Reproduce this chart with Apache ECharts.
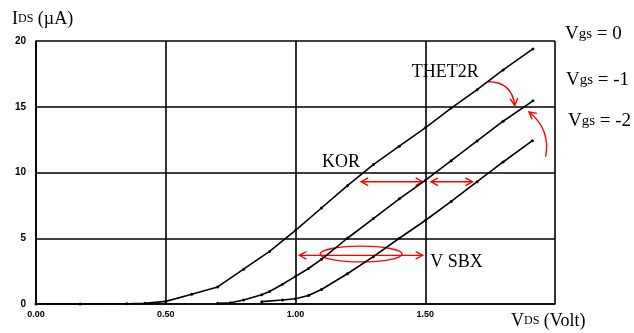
<!DOCTYPE html>
<html>
<head>
<meta charset="utf-8">
<script src="https://cdn.jsdelivr.net/npm/echarts@6/dist/echarts.min.js"></script>
<style>
html, body { margin: 0; padding: 0; background: #fff; }
#chart { width: 634px; height: 333px; }
</style>
</head>
<body>
<div id="chart"></div>
<script>
// Vgs = 0
var vds0 = [0, 0.17, 0.35, 0.42, 0.5, 0.6, 0.7, 0.8, 0.9, 1.0, 1.1, 1.2, 1.3, 1.4, 1.5, 1.6, 1.7, 1.8, 1.915];
var ids0 = [0, 0, 0.02, 0.05, 0.2, 0.74, 1.3, 2.65, 4.0, 5.6, 7.3, 9.0, 10.6, 12.0, 13.4, 14.9, 16.3, 17.8, 19.4];
// Vgs = -1
var vds1 = [0.7, 0.75, 0.8, 0.87, 0.9, 0.95, 1.0, 1.05, 1.1, 1.2, 1.3, 1.4, 1.5, 1.6, 1.7, 1.8, 1.915];
var ids1 = [0.05, 0.1, 0.3, 0.7, 0.95, 1.5, 2.1, 2.7, 3.4, 5.0, 6.5, 8.0, 9.4, 10.9, 12.4, 13.9, 15.45];
// Vgs = -2
var vds2 = [0.87, 0.95, 1.0, 1.05, 1.1, 1.2, 1.3, 1.4, 1.5, 1.6, 1.7, 1.8, 1.913];
var ids2 = [0.18, 0.3, 0.4, 0.65, 1.1, 2.3, 3.6, 5.0, 6.35, 7.8, 9.3, 10.8, 12.42];

var curveNames = ['Vgs = 0', 'Vgs = -1', 'Vgs = -2'];

// red annotations (data coords)
var straightArrows = [
    [[1.253, 9.3], [1.49, 9.3]],
    [[1.522, 9.3], [1.682, 9.3]],
    [[1.015, 3.7], [1.49, 3.7]]
];
// [from, to, bend]; bend = sideways offset of the control point, relative to length
var curvedArrows = [
    [[1.74, 16.9], [1.845, 15.1], 0.45],
    [[1.964, 11.2], [1.9, 14.6], -0.3]
];
var ellipse = [1.253, 3.8, 0.158, 0.6];

var notes = [
    {text: 'KOR', x: 1.175, y: 10.8},
    {text: 'THET2R', x: 1.577, y: 17.6},
    {text: 'V SBX', x: 1.62, y: 3.2}
];

function zip(a, b) {
    return a.map(function (v, i) { return [v, b[i]]; });
}

var chart = echarts.init(document.getElementById('chart'));

var serif = '"Liberation Serif", "DejaVu Serif", serif';
var red = '#ff0000';
var redStroke = {fill: 'none', stroke: red, lineWidth: 1.4};

function curve(name, xs, ys) {
    return {
        name: name,
        type: 'line',
        data: zip(xs, ys),
        symbol: 'circle',
        symbolSize: 3,
        itemStyle: {color: '#000'},
        lineStyle: {color: '#000', width: 1.6},
        silent: true
    };
}

// open "V" arrow head at tip, coming from direction of 'from'
function arrowHead(tip, from) {
    var ang = Math.atan2(tip[1] - from[1], tip[0] - from[0]);
    var len = 8, spread = 0.5;
    var a = [tip[0] - len * Math.cos(ang - spread), tip[1] - len * Math.sin(ang - spread)];
    var b = [tip[0] - len * Math.cos(ang + spread), tip[1] - len * Math.sin(ang + spread)];
    return {type: 'polyline', shape: {points: [a, tip, b]}, style: redStroke};
}

var option = {
    animation: false,
    grid: {left: 36, right: 79, top: 41, bottom: 29},
    xAxis: {
        type: 'value',
        min: 0, max: 2, interval: 0.5,
        axisLine: {lineStyle: {color: '#000', width: 1.6}},
        axisTick: {show: false},
        splitLine: {lineStyle: {color: '#000', width: 1.6}},
        axisLabel: {
            color: '#000', fontSize: 9, fontWeight: 'bold', margin: 6,
            fontFamily: '"Liberation Sans", sans-serif',
            formatter: function (v) { return v === 2 ? '' : v.toFixed(2); }
        }
    },
    yAxis: {
        type: 'value',
        min: 0, max: 20, interval: 5,
        axisLine: {show: true, lineStyle: {color: '#000', width: 1.6}},
        axisTick: {show: false},
        splitLine: {lineStyle: {color: '#000', width: 1.6}},
        axisLabel: {
            color: '#000', fontSize: 10, fontWeight: 'bold', margin: 10,
            fontFamily: '"Liberation Sans", sans-serif'
        }
    },
    graphic: [
        {type: 'text', left: 12, top: 10, style: {
            text: 'I{s|DS} (µA)', rich: {s: {fontSize: 12, fontFamily: serif}},
            font: '18px ' + serif, fill: '#000'}},
        {type: 'text', left: 511, top: 312, style: {
            text: 'V{s|DS} (Volt)', rich: {s: {fontSize: 12, fontFamily: serif}},
            font: '18px ' + serif, fill: '#000'}},
        {type: 'text', left: 565, top: 25, style: {
            text: 'V{s|gs} = 0', rich: {s: {fontSize: 15, fontFamily: serif}},
            font: '19px ' + serif, fill: '#000'}},
        {type: 'text', left: 566, top: 71, style: {
            text: 'V{s|gs} = -1', rich: {s: {fontSize: 15, fontFamily: serif}},
            font: '19px ' + serif, fill: '#000'}},
        {type: 'text', left: 568, top: 112, style: {
            text: 'V{s|gs} = -2', rich: {s: {fontSize: 15, fontFamily: serif}},
            font: '19px ' + serif, fill: '#000'}}
    ],
    series: [
        curve(curveNames[0], vds0, ids0),
        curve(curveNames[1], vds1, ids1),
        curve(curveNames[2], vds2, ids2),
        {
            name: 'annotations',
            type: 'custom',
            silent: true,
            clip: false,
            data: [ellipse],
            renderItem: function (params, api) {
                var c = api.coord([api.value(0), api.value(1)]);
                var s = api.size([api.value(2), api.value(3)]);
                var children = [{
                    type: 'ellipse',
                    shape: {cx: c[0], cy: c[1], rx: s[0], ry: s[1]},
                    style: redStroke
                }];
                straightArrows.forEach(function (a) {
                    var p1 = api.coord(a[0]), p2 = api.coord(a[1]);
                    children.push({
                        type: 'line',
                        shape: {x1: p1[0], y1: p1[1], x2: p2[0], y2: p2[1]},
                        style: redStroke
                    });
                    children.push(arrowHead(p1, p2));
                    children.push(arrowHead(p2, p1));
                });
                curvedArrows.forEach(function (a) {
                    var p1 = api.coord(a[0]), p2 = api.coord(a[1]);
                    var cpx = (p1[0] + p2[0]) / 2 - (p1[1] - p2[1]) * a[2];
                    var cpy = (p1[1] + p2[1]) / 2 - (p2[0] - p1[0]) * a[2];
                    children.push({
                        type: 'bezierCurve',
                        shape: {x1: p1[0], y1: p1[1], x2: p2[0], y2: p2[1], cpx1: cpx, cpy1: cpy},
                        style: redStroke
                    });
                    children.push(arrowHead(p2, [cpx, cpy]));
                });
                notes.forEach(function (n) {
                    var p = api.coord([n.x, n.y]);
                    children.push({
                        type: 'text',
                        x: p[0], y: p[1],
                        style: {
                            text: n.text, fill: '#000',
                            font: '18px ' + serif,
                            align: 'center', verticalAlign: 'middle'
                        }
                    });
                });
                return {type: 'group', children: children};
            }
        }
    ]
};

chart.setOption(option);
</script>
</body>
</html>
